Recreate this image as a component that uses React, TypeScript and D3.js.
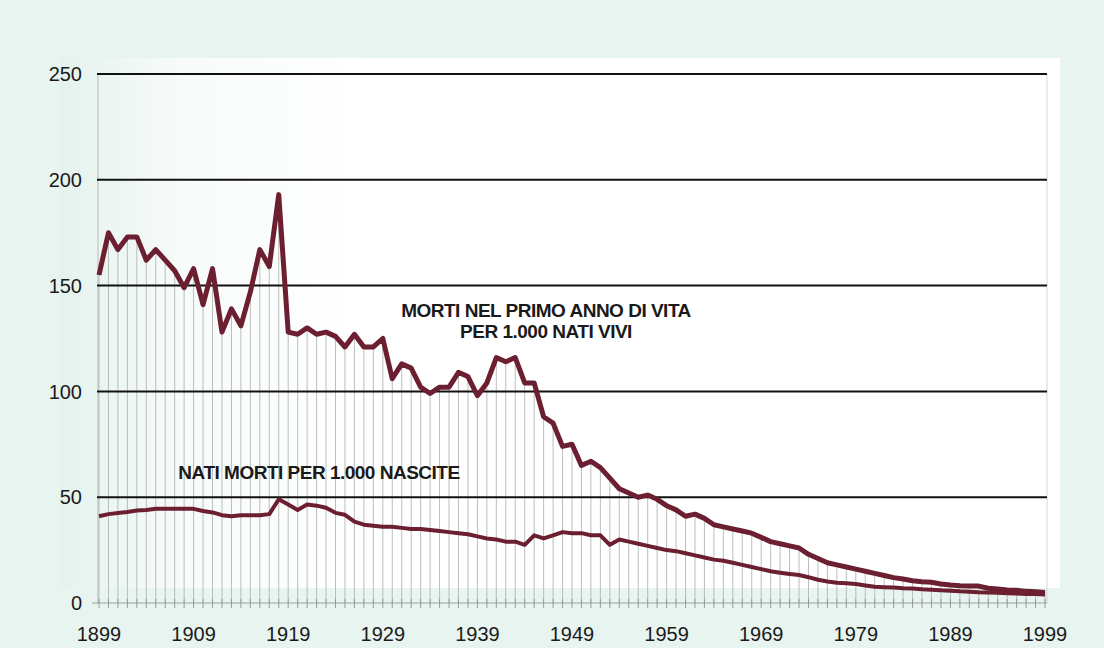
import React, { useRef, useEffect } from "react";
import * as d3 from "d3";

// years 1899..1999
const years = d3.range(1899, 2000);

// infant deaths in first year of life per 1,000 live births
const infantDeaths = [
  155, 175, 167, 173, 173, 162, 167, 162, 157, 149,
  158, 141, 158, 128, 139, 131, 147, 167, 159, 193,
  128, 127, 130, 127, 128, 126, 121, 127, 121, 121,
  125, 106, 113, 111, 102, 99, 102, 102, 109, 107,
  98, 104, 116, 114, 116, 104, 104, 88, 85, 74,
  75, 65, 67, 64, 59, 54, 52, 50, 51, 49,
  46, 44, 41, 42, 40, 37, 36, 35, 34, 33,
  31, 29, 28, 27, 26, 23, 21, 19, 18, 17,
  16, 15, 14, 13, 12, 11.3, 10.5, 10, 9.8, 9,
  8.5, 8.2, 8, 8, 7, 6.6, 6.2, 6, 5.5, 5.3,
  5,
];

// stillbirths per 1,000 births
const stillBirths = [
  41, 42, 42.5, 43, 43.7, 44, 44.5, 44.5, 44.5, 44.5,
  44.5, 43.5, 42.8, 41.5, 41, 41.5, 41.5, 41.5, 42, 49,
  46.5, 44, 46.5, 46, 45, 42.6, 41.7, 38.5, 37, 36.5,
  36, 36, 35.5, 35, 35, 34.5, 34, 33.5, 33, 32.5,
  31.5, 30.5, 30, 29, 29, 27.5, 32, 30.5, 32, 33.5,
  33, 33, 32, 32, 27.5, 30, 29, 28, 27, 26,
  25, 24.5, 23.5, 22.5, 21.5, 20.5, 20, 19, 18, 17,
  16, 15, 14.3, 13.7, 13.2, 12.2, 11, 10.2, 9.6, 9.3,
  9, 8.3, 7.7, 7.5, 7.3, 7, 6.8, 6.5, 6.3, 6,
  5.8, 5.5, 5.3, 5.1, 5, 4.8, 4.6, 4.5, 4.3, 4.2,
  4,
];

const yTicks = [0, 50, 100, 150, 200, 250];
const xTicks = [1899, 1909, 1919, 1929, 1939, 1949, 1959, 1969, 1979, 1989, 1999];

const labelInfant = ["MORTI NEL PRIMO ANNO DI VITA", "PER 1.000 NATI VIVI"];
const labelStill = "NATI MORTI PER 1.000 NASCITE";

const lineColor = "#6b1f30";

export default function App() {
  const svgRef = useRef(null);
  const width = 1104;
  const height = 648;

  useEffect(() => {
    const svg = d3.select(svgRef.current);
    svg.selectAll("*").remove();

    const x = d3.scaleLinear().domain([1899, 1999]).range([99, 1045]);
    const y = d3.scaleLinear().domain([0, 250]).range([603, 74]);

    // scanned paper tint
    const defs = svg.append("defs");
    const grad = defs
      .append("linearGradient")
      .attr("id", "tint")
      .attr("x1", "0")
      .attr("x2", "1");
    grad.append("stop").attr("offset", "0").attr("stop-color", "#e4f2ee");
    grad.append("stop").attr("offset", "0.12").attr("stop-color", "#f7fbfa");
    grad.append("stop").attr("offset", "0.3").attr("stop-color", "#ffffff");
    svg.append("rect").attr("width", width).attr("height", height).attr("fill", "#e8f4f0");
    svg
      .append("rect")
      .attr("x", 60)
      .attr("y", 58)
      .attr("width", 1000)
      .attr("height", 530)
      .attr("fill", "url(#tint)");

    // vertical drop lines from upper curve
    svg
      .append("g")
      .selectAll("line")
      .data(years)
      .join("line")
      .attr("x1", (d) => x(d))
      .attr("x2", (d) => x(d))
      .attr("y1", (d, i) => y(infantDeaths[i]))
      .attr("y2", y(0))
      .attr("stroke", "#a9aeac")
      .attr("stroke-width", 0.8);

    // frame sides
    svg
      .append("line")
      .attr("x1", 98)
      .attr("x2", 98)
      .attr("y1", y(250))
      .attr("y2", y(0))
      .attr("stroke", "#b5b9b8")
      .attr("stroke-width", 1);
    svg
      .append("line")
      .attr("x1", 1047)
      .attr("x2", 1047)
      .attr("y1", y(250))
      .attr("y2", y(0))
      .attr("stroke", "#d3d6d5")
      .attr("stroke-width", 1);

    // horizontal grid lines
    svg
      .append("g")
      .selectAll("line")
      .data(yTicks.filter((d) => d > 0))
      .join("line")
      .attr("x1", 97)
      .attr("x2", 1047)
      .attr("y1", (d) => y(d))
      .attr("y2", (d) => y(d))
      .attr("stroke", "#111")
      .attr("stroke-width", 2);

    // zero axis with year ticks
    svg
      .append("line")
      .attr("x1", 92)
      .attr("x2", 1047)
      .attr("y1", y(0))
      .attr("y2", y(0))
      .attr("stroke", "#9da3a1")
      .attr("stroke-width", 1);
    svg
      .append("g")
      .selectAll("line")
      .data(years)
      .join("line")
      .attr("x1", (d) => x(d))
      .attr("x2", (d) => x(d))
      .attr("y1", y(0) - 4)
      .attr("y2", y(0) + 5)
      .attr("stroke", "#8f9593")
      .attr("stroke-width", 0.9);

    // y labels
    svg
      .append("g")
      .selectAll("text")
      .data(yTicks)
      .join("text")
      .attr("x", 82)
      .attr("y", (d) => y(d))
      .attr("dy", "0.36em")
      .attr("text-anchor", "end")
      .style("font-family", "Liberation Sans, Arial, sans-serif")
      .style("font-size", 20)
      .attr("fill", "#1a1a1a")
      .text((d) => d);

    // x labels
    svg
      .append("g")
      .selectAll("text")
      .data(xTicks)
      .join("text")
      .attr("x", (d) => x(d))
      .attr("y", 641)
      .attr("text-anchor", "middle")
      .style("font-family", "Liberation Sans, Arial, sans-serif")
      .style("font-size", 20)
      .attr("fill", "#1a1a1a")
      .text((d) => d);

    // series lines
    const line = d3
      .line()
      .x((d) => x(d[0]))
      .y((d) => y(d[1]));

    svg
      .append("path")
      .datum(years.map((yr, i) => [yr, stillBirths[i]]))
      .attr("d", line)
      .attr("fill", "none")
      .attr("stroke", lineColor)
      .attr("stroke-width", 4)
      .attr("stroke-linejoin", "round");

    svg
      .append("path")
      .datum(years.map((yr, i) => [yr, infantDeaths[i]]))
      .attr("d", line)
      .attr("fill", "none")
      .attr("stroke", lineColor)
      .attr("stroke-width", 5)
      .attr("stroke-linejoin", "round");

    // annotations
    const label = svg
      .append("g")
      .style("font-family", "Liberation Sans, Arial, sans-serif")
      .style("font-size", 19)
      .style("font-weight", "bold")
      .attr("fill", "#1a1a1a")
      .attr("text-anchor", "middle")
      .style("letter-spacing", "-0.5px");
    label
      .selectAll("text")
      .data(labelInfant)
      .join("text")
      .attr("x", 546)
      .attr("y", (d, i) => 317 + i * 21)
      .text((d) => d);
    label
      .append("text")
      .attr("x", 319)
      .attr("y", 479)
      .text(labelStill);
  }, []);

  return (
    <svg
      ref={svgRef}
      width={width}
      height={height}
      style={{ position: "absolute", left: 0, top: 0, display: "block" }}
    ></svg>
  );
}
